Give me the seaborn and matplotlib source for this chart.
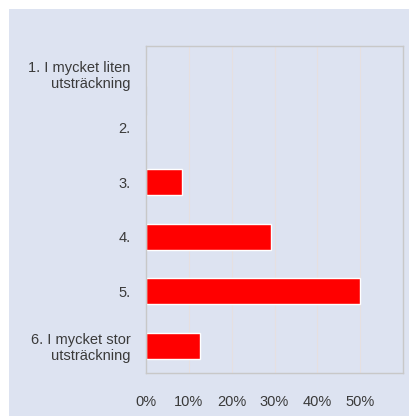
import matplotlib.pyplot as plt
import matplotlib.patches as patches
from matplotlib.ticker import PercentFormatter
import seaborn as sb
import pandas as pd

# answer categories and share of respondents (%)
categories = ["1. I mycket liten\nutsträckning", "2.", "3.", "4.", "5.",
              "6. I mycket stor\nutsträckning"]
shares = [0, 0, 8.3, 29.2, 50.0, 12.5]
xticks = [0, 10, 20, 30, 40, 50]

df = pd.DataFrame({"category": categories, "share": shares})

sb.set_theme(style="white")
plt.rcParams["font.family"] = ["Liberation Sans", "DejaVu Sans"]

panel = "#dde3f1"
fig = plt.figure(figsize=(4.09, 4.16), dpi=100, facecolor="white")
fig.patches.append(patches.Rectangle((9 / 409, 0), 1, 1 - 9 / 416,
                                     transform=fig.transFigure,
                                     facecolor=panel, edgecolor="none", zorder=-10))
ax = fig.add_axes([146 / 409, 1 - 373 / 416, 257 / 409, 327 / 416])
ax.set_facecolor(panel)

sb.barplot(data=df, y="category", x="share", orient="h", color="#ff0000",
           saturation=1, width=0.48, edgecolor="white", linewidth=1, ax=ax)

ax.set_xlim(0, 60)
ax.set_xticks(xticks)
ax.xaxis.set_major_formatter(PercentFormatter(decimals=0))
for x in [10, 20, 30, 40, 50]:
    ax.axvline(x, color="#e6e0e0", linewidth=0.8, zorder=0)
ax.set_xlabel("")
ax.set_ylabel("")
ax.tick_params(axis="x", length=0, pad=16, labelsize=10.5, labelcolor="#3a3a3a")
ax.tick_params(axis="y", length=0, pad=11, labelsize=10.5, labelcolor="#3a3a3a")
for s in ax.spines.values():
    s.set_color("#c8c8c8")
    s.set_linewidth(1)

fig.savefig("out.png", dpi=100)
